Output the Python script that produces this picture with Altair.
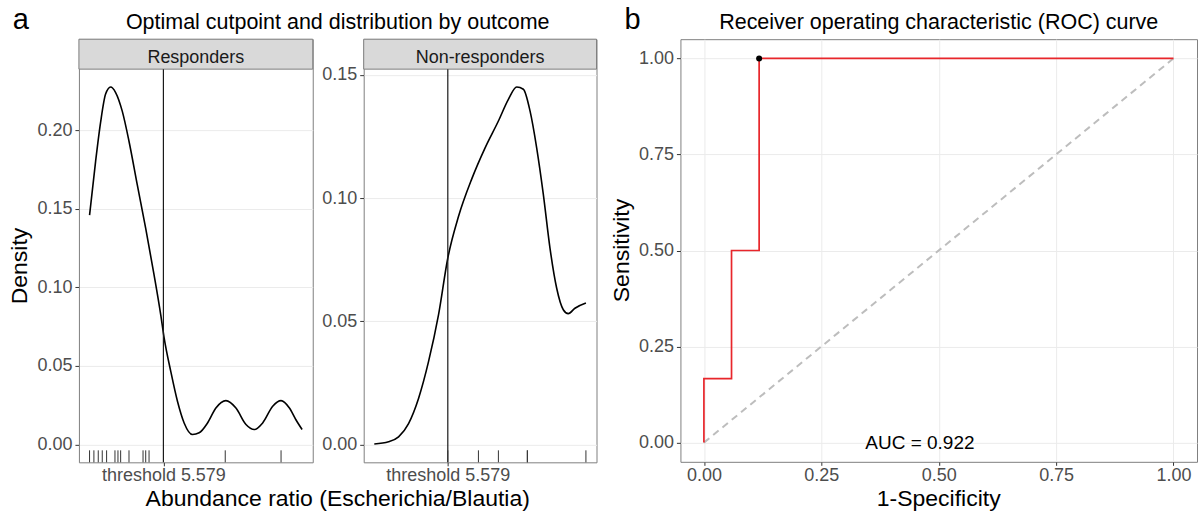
import altair as alt
import pandas as pd

# ---------------- data ----------------
threshold = 5.579
resp_rug = [1.16, 1.42, 1.68, 1.92, 2.18, 2.68, 2.86, 3.02, 3.52, 4.36, 4.52, 4.72, 9.28, 12.62]
nonresp_rug = [5.579, 7.42, 8.62, 10.36, 10.36, 13.88]

resp_x = [1.16, 1.52, 1.82, 2.12, 2.42, 2.72, 3.12, 3.52, 4.02, 4.52, 5.02, 5.42, 5.62, 6.02,
          6.42, 6.82, 7.32, 7.72, 8.22, 8.72, 9.32, 9.92, 10.52, 11.02, 11.52, 12.12, 12.62,
          13.12, 13.5, 13.88]
resp_d = [0.146, 0.180, 0.205, 0.223, 0.2275, 0.224, 0.212, 0.193, 0.165, 0.1375, 0.108, 0.0825,
          0.068, 0.0465, 0.0275, 0.0137, 0.0063, 0.0074, 0.0137, 0.0232, 0.0279, 0.0232, 0.0127,
          0.0095, 0.0137, 0.0243, 0.0279, 0.0232, 0.0159, 0.0095]

non_x = [1.16, 2.02, 2.62, 3.22, 3.82, 4.42, 5.02, 5.58, 6.22, 7.02, 7.82, 8.62, 9.22, 9.72,
         10.12, 10.52, 10.92, 11.32, 11.72, 12.12, 12.52, 12.82, 13.22, 13.88]
non_d = [0.0002, 0.0011, 0.0031, 0.0085, 0.0187, 0.0336, 0.0526, 0.0757, 0.0925, 0.1078, 0.1204,
         0.1313, 0.1401, 0.1451, 0.1442, 0.1354, 0.1204, 0.1015, 0.0797, 0.0635, 0.0547, 0.0531,
         0.0553, 0.0574]

roc_fpr = [0.0, 0.0, 0.0588, 0.0588, 0.1176, 0.1176, 1.0]
roc_tpr = [0.0, 0.1667, 0.1667, 0.5, 0.5, 1.0, 1.0]
opt_fpr = [0.1176]
opt_tpr = [1.0]
auc_text = "AUC = 0.922"

dens_ticks = [0.0, 0.05, 0.10, 0.15, 0.20]
non_ticks = [0.0, 0.05, 0.10, 0.15]
roc_ticks = [0.0, 0.25, 0.5, 0.75, 1.0]

# ---------------- styling ----------------
FONT = "Liberation Sans"
W_R, W_N, W_ROC = 234, 233, 517
H, STRIP, H_ROC = 423.5, 30, 423
BORDER = "#7F7F7F"
GRID = "#EBEBEB"
TICKC = "#333333"
LABC = "#4D4D4D"

one = pd.DataFrame({"k": [0]})


def expand(lo, hi, f=0.05):
    r = hi - lo
    return [lo - f * r, hi + f * r]


all_x = resp_rug + nonresp_rug
xs = alt.Scale(domain=expand(min(all_x), max(all_x)), nice=False, zero=False)
x_axis = alt.Axis(values=[threshold], labelExpr="'threshold ' + format(datum.value, '.3f')",
                  title="", grid=False, domain=False, tickSize=3.5, tickColor=TICKC,
                  labelFontSize=18, labelColor=LABC, labelPadding=1, labelFont=FONT)


def y_axis(vals, pad=3, tick=4):
    return alt.Axis(values=vals, format=".2f", title="", grid=True, gridColor=GRID, gridWidth=1,
                    domain=False, tickSize=tick, tickColor=TICKC, labelFontSize=18,
                    labelColor=LABC, labelPadding=pad, labelFont=FONT)


def label(text, x, y, size, angle=0, align="center", baseline="alphabetic", color="black"):
    return alt.Chart(one).mark_text(text=text, font=FONT, fontSize=size, angle=angle,
                                    align=align, baseline=baseline, color=color).encode(
        x=alt.value(x), y=alt.value(y))


def density_panel(name, xv, dv, rug, ticks, width, extra):
    ydom = expand(0, max(dv))
    ys = alt.Scale(domain=ydom, range=[H, STRIP], nice=False, zero=False)
    yax = y_axis(ticks)
    strip_rect = alt.Chart(one).mark_rect(fill="#D9D9D9", stroke=BORDER, strokeWidth=1).encode(
        x=alt.value(0), x2=alt.value(width), y=alt.value(0), y2=alt.value(STRIP))
    strip_txt = label(name, width / 2, 23.7, 18, color="#1A1A1A")
    curve = alt.Chart(pd.DataFrame({"x": xv, "d": dv})).mark_line(
        color="black", strokeWidth=1.6, interpolate="monotone").encode(
        x=alt.X("x:Q", scale=xs, axis=x_axis), y=alt.Y("d:Q", scale=ys, axis=yax))
    vline = alt.Chart(one).mark_rule(color="#1A1A1A", strokeWidth=1.2).encode(
        x=alt.XDatum(threshold, type="quantitative", scale=xs, axis=x_axis),
        y=alt.YDatum(ydom[1], type="quantitative", scale=ys, axis=yax),
        y2=alt.Y2Datum(ydom[0]))
    rugc = alt.Chart(pd.DataFrame({"x": rug})).mark_rule(color="#333333", strokeWidth=1).encode(
        x=alt.X("x:Q", scale=xs, axis=x_axis), y=alt.value(H - 12), y2=alt.value(H))
    return alt.layer(strip_rect, strip_txt, curve, vline, rugc, *extra).properties(
        width=width, height=H)


anchor = alt.Chart(one).mark_rect(fill="white").encode(
    x=alt.value(-78), x2=alt.value(-77), y=alt.value(-38), y2=alt.value(-37))

left_extra = [
    anchor,
    label("a", -66.3, -9.7, 29, align="left"),
    label("Optimal cutpoint and distribution by outcome", 259, -9.7, 21.5),
    label("Density", -51.5, 227, 23, angle=270),
    label("Abundance ratio (Escherichia/Blautia)", 259, 467.5, 23),
]

resp_chart = density_panel("Responders", resp_x, resp_d, resp_rug, dens_ticks, W_R, left_extra)
non_chart = density_panel("Non-responders", non_x, non_d, nonresp_rug, non_ticks, W_N, [])

# ---------------- ROC ----------------
xr = alt.Scale(domain=expand(0, 1), nice=False, zero=False)
yr = alt.Scale(domain=expand(0, 1), nice=False, zero=False)
xr_ax = y_axis(roc_ticks, pad=1, tick=3.5)
yr_ax = y_axis(roc_ticks, pad=3)

diag = alt.Chart(pd.DataFrame({"x": [0.0, 1.0], "y": [0.0, 1.0]})).mark_line(
    color="#BDBDBD", strokeWidth=2, strokeDash=[7, 5]).encode(
    x=alt.X("x:Q", scale=xr, axis=xr_ax), y=alt.Y("y:Q", scale=yr, axis=yr_ax))
roc_df = pd.DataFrame({"x": roc_fpr, "y": roc_tpr, "i": list(range(len(roc_fpr)))})
roc_line = alt.Chart(roc_df).mark_line(color="#E8262B", strokeWidth=1.7).encode(
    x=alt.X("x:Q", scale=xr, axis=xr_ax), y=alt.Y("y:Q", scale=yr, axis=yr_ax),
    order=alt.Order("i:Q"))
opt_pt = alt.Chart(pd.DataFrame({"x": opt_fpr, "y": opt_tpr})).mark_point(
    filled=True, color="black", size=36, opacity=1).encode(
    x=alt.X("x:Q", scale=xr, axis=xr_ax), y=alt.Y("y:Q", scale=yr, axis=yr_ax))
auc = alt.Chart(pd.DataFrame({"x": [0.46], "y": [0.0], "t": [auc_text]})).mark_text(
    font=FONT, fontSize=19, color="black", baseline="middle").encode(
    x=alt.X("x:Q", scale=xr, axis=xr_ax), y=alt.Y("y:Q", scale=yr, axis=yr_ax), text="t:N")

roc_chart = alt.layer(
    diag, roc_line, opt_pt, auc,
    label("b", -56, -10, 29, align="left"),
    label("Receiver operating characteristic (ROC) curve", W_ROC / 2, -10, 21.5),
    label("Sensitivity", -51, 211.5, 23, angle=270),
    label("1-Specificity", W_ROC / 2, 467.5, 23),
).properties(width=W_ROC, height=H_ROC)


def spacer(w):
    return alt.Chart(one).mark_text(text=" ").encode(
        x=alt.value(0), y=alt.value(0)).properties(
        width=w, height=H, view=alt.ViewBackground(stroke="transparent"))


chart = alt.hconcat(
    resp_chart, spacer(1), non_chart, spacer(34), roc_chart,
    spacing=25, bounds="flush"
).properties(padding=0).configure(
    font=FONT, background="white"
).configure_view(stroke=BORDER, strokeWidth=1)

chart.save("out.html", embed_options={"renderer": "svg", "actions": False})
